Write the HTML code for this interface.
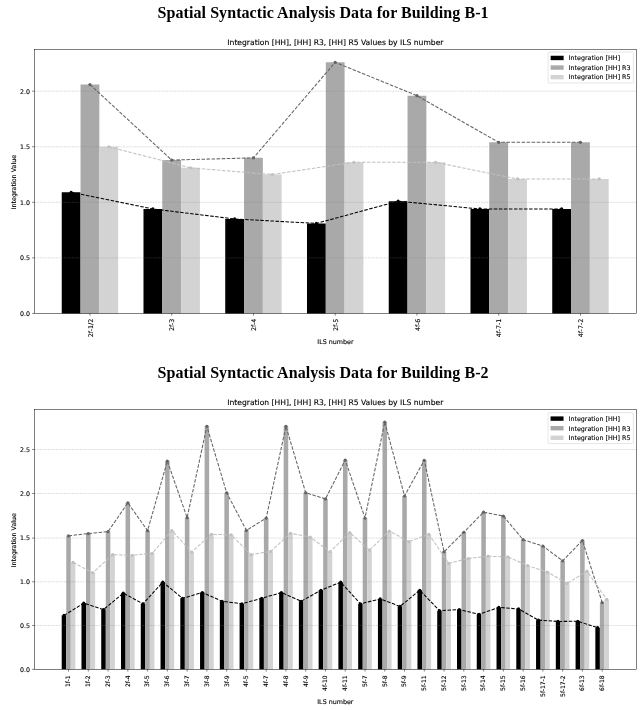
<!DOCTYPE html>
<html><head><meta charset="utf-8"><title>Spatial Syntactic Analysis Data</title>
<style>
html,body{margin:0;padding:0;background:#fff}
svg{display:block}
.t{font-family:"DejaVu Sans","Liberation Sans",sans-serif;font-size:6.35px;fill:#000;stroke:#000;stroke-width:0.12px}
.yt{font-family:"DejaVu Sans","Liberation Sans",sans-serif;font-size:6.25px;fill:#000}
.ti{font-family:"DejaVu Sans","Liberation Sans",sans-serif;font-size:7.61px;fill:#000;stroke:#000;stroke-width:0.12px}
.h{font-family:"Liberation Serif","Times New Roman",serif;font-weight:bold;font-size:16px;fill:#000;letter-spacing:0.068px}
.grid{stroke:#808080;stroke-width:0.5;stroke-dasharray:1.88 0.81;stroke-opacity:.5}
.tick{stroke:#000;stroke-width:0.5}
</style></head><body>
<svg width="642" height="710" viewBox="0 0 642 710">
<rect width="642" height="710" fill="#fff"/>
<text x="323.1" y="17.9" text-anchor="middle" class="h">Spatial Syntactic Analysis Data for Building B-1</text>
<path d="M61.74 313.40V192.30h18.80V313.40zM143.49 313.40V208.97h18.80V313.40zM225.24 313.40V218.96h18.80V313.40zM306.99 313.40V223.41h18.80V313.40zM388.74 313.40V201.19h18.80V313.40zM470.49 313.40V208.97h18.80V313.40zM552.24 313.40V208.97h18.80V313.40z" fill="#000000"/>
<path d="M80.54 313.40V84.53h18.80V313.40zM162.29 313.40V160.08h18.80V313.40zM244.04 313.40V157.86h18.80V313.40zM325.79 313.40V62.31h18.80V313.40zM407.54 313.40V95.64h18.80V313.40zM489.29 313.40V142.31h18.80V313.40zM571.04 313.40V142.31h18.80V313.40z" fill="#a9a9a9"/>
<path d="M99.35 313.40V146.75h18.80V313.40zM181.10 313.40V167.86h18.80V313.40zM262.85 313.40V174.52h18.80V313.40zM344.60 313.40V162.30h18.80V313.40zM426.35 313.40V162.30h18.80V313.40zM508.10 313.40V178.97h18.80V313.40zM589.85 313.40V178.97h18.80V313.40z" fill="#d3d3d3"/>
<line x1="34.35" x2="636.45" y1="257.85" y2="257.85" class="grid"/>
<line x1="34.35" x2="636.45" y1="202.30" y2="202.30" class="grid"/>
<line x1="34.35" x2="636.45" y1="146.75" y2="146.75" class="grid"/>
<line x1="34.35" x2="636.45" y1="91.20" y2="91.20" class="grid"/>
<polyline points="71.14,192.30 152.89,208.97 234.64,218.96 316.39,223.41 398.14,201.19 479.89,208.97 561.64,208.97" fill="none" stroke="#000000" stroke-width="1.05" stroke-dasharray="3.52 1.52"/>
<circle cx="71.14" cy="192.30" r="1.6" fill="#000000"/>
<circle cx="152.89" cy="208.97" r="1.6" fill="#000000"/>
<circle cx="234.64" cy="218.96" r="1.6" fill="#000000"/>
<circle cx="316.39" cy="223.41" r="1.6" fill="#000000"/>
<circle cx="398.14" cy="201.19" r="1.6" fill="#000000"/>
<circle cx="479.89" cy="208.97" r="1.6" fill="#000000"/>
<circle cx="561.64" cy="208.97" r="1.6" fill="#000000"/>
<polyline points="89.95,84.53 171.70,160.08 253.45,157.86 335.20,62.31 416.95,95.64 498.70,142.31 580.45,142.31" fill="none" stroke="#636363" stroke-width="1.05" stroke-dasharray="3.52 1.52"/>
<circle cx="89.95" cy="84.53" r="1.6" fill="#636363"/>
<circle cx="171.70" cy="160.08" r="1.6" fill="#636363"/>
<circle cx="253.45" cy="157.86" r="1.6" fill="#636363"/>
<circle cx="335.20" cy="62.31" r="1.6" fill="#636363"/>
<circle cx="416.95" cy="95.64" r="1.6" fill="#636363"/>
<circle cx="498.70" cy="142.31" r="1.6" fill="#636363"/>
<circle cx="580.45" cy="142.31" r="1.6" fill="#636363"/>
<polyline points="108.75,146.75 190.50,167.86 272.25,174.52 354.00,162.30 435.75,162.30 517.50,178.97 599.25,178.97" fill="none" stroke="#c0c0c0" stroke-width="1.05" stroke-dasharray="3.52 1.52"/>
<circle cx="108.75" cy="146.75" r="1.6" fill="#c0c0c0"/>
<circle cx="190.50" cy="167.86" r="1.6" fill="#c0c0c0"/>
<circle cx="272.25" cy="174.52" r="1.6" fill="#c0c0c0"/>
<circle cx="354.00" cy="162.30" r="1.6" fill="#c0c0c0"/>
<circle cx="435.75" cy="162.30" r="1.6" fill="#c0c0c0"/>
<circle cx="517.50" cy="178.97" r="1.6" fill="#c0c0c0"/>
<circle cx="599.25" cy="178.97" r="1.6" fill="#c0c0c0"/>
<rect x="34.35" y="49.45" width="602.10" height="263.95" fill="none" stroke="#000" stroke-width="0.5"/>
<line x1="32.15" x2="34.35" y1="313.40" y2="313.40" class="tick"/>
<text x="29.95" y="315.70" text-anchor="end" class="t yt">0.0</text>
<line x1="32.15" x2="34.35" y1="257.85" y2="257.85" class="tick"/>
<text x="29.95" y="260.15" text-anchor="end" class="t yt">0.5</text>
<line x1="32.15" x2="34.35" y1="202.30" y2="202.30" class="tick"/>
<text x="29.95" y="204.60" text-anchor="end" class="t yt">1.0</text>
<line x1="32.15" x2="34.35" y1="146.75" y2="146.75" class="tick"/>
<text x="29.95" y="149.05" text-anchor="end" class="t yt">1.5</text>
<line x1="32.15" x2="34.35" y1="91.20" y2="91.20" class="tick"/>
<text x="29.95" y="93.50" text-anchor="end" class="t yt">2.0</text>
<line x1="89.95" x2="89.95" y1="313.40" y2="315.60" class="tick"/>
<text transform="translate(92.53 318.75) rotate(-90)" text-anchor="end" class="t">2f-1/2</text>
<line x1="171.70" x2="171.70" y1="313.40" y2="315.60" class="tick"/>
<text transform="translate(174.28 318.75) rotate(-90)" text-anchor="end" class="t">2f-3</text>
<line x1="253.45" x2="253.45" y1="313.40" y2="315.60" class="tick"/>
<text transform="translate(256.03 318.75) rotate(-90)" text-anchor="end" class="t">2f-4</text>
<line x1="335.20" x2="335.20" y1="313.40" y2="315.60" class="tick"/>
<text transform="translate(337.78 318.75) rotate(-90)" text-anchor="end" class="t">2f-5</text>
<line x1="416.95" x2="416.95" y1="313.40" y2="315.60" class="tick"/>
<text transform="translate(419.53 318.75) rotate(-90)" text-anchor="end" class="t">4f-6</text>
<line x1="498.70" x2="498.70" y1="313.40" y2="315.60" class="tick"/>
<text transform="translate(501.28 318.75) rotate(-90)" text-anchor="end" class="t">4f-7-1</text>
<line x1="580.45" x2="580.45" y1="313.40" y2="315.60" class="tick"/>
<text transform="translate(583.03 318.75) rotate(-90)" text-anchor="end" class="t">4f-7-2</text>
<text x="335.40" y="45.15" text-anchor="middle" class="ti">Integration [HH], [HH] R3, [HH] R5 Values by ILS number</text>
<text x="335.40" y="343.90" text-anchor="middle" class="t">ILS number</text>
<text transform="translate(15.6 182.12) rotate(-90)" text-anchor="middle" class="t">Integration Value</text>
<rect x="548.15" y="52.05" width="85.3" height="30.9" rx="1.2" fill="#fff" fill-opacity="0.8" stroke="#ccc" stroke-width="0.5"/>
<rect x="550.65" y="55.75" width="13" height="4.4" fill="#000"/>
<text x="568.65" y="60.25" class="t">Integration [HH]</text>
<rect x="550.65" y="65.35" width="13" height="4.4" fill="#a9a9a9"/>
<text x="568.65" y="69.85" class="t">Integration [HH] R3</text>
<rect x="550.65" y="74.95" width="13" height="4.4" fill="#d3d3d3"/>
<text x="568.65" y="79.45" class="t">Integration [HH] R5</text>
<text x="323.1" y="378.1" text-anchor="middle" class="h">Spatial Syntactic Analysis Data for Building B-2</text>
<path d="M61.71 669.35V615.47h4.55V669.35zM81.48 669.35V603.16h4.55V669.35zM101.24 669.35V609.58h4.55V669.35zM121.01 669.35V593.14h4.55V669.35zM140.77 669.35V603.78h4.55V669.35zM160.54 669.35V582.15h4.55V669.35zM180.30 669.35V598.33h4.55V669.35zM200.06 669.35V592.53h4.55V669.35zM219.83 669.35V601.23h4.55V669.35zM239.59 669.35V603.78h4.55V669.35zM259.36 669.35V598.33h4.55V669.35zM279.12 669.35V592.53h4.55V669.35zM298.88 669.35V601.23h4.55V669.35zM318.65 669.35V590.24h4.55V669.35zM338.41 669.35V582.15h4.55V669.35zM358.18 669.35V603.78h4.55V669.35zM377.94 669.35V598.94h4.55V669.35zM397.71 669.35V606.41h4.55V669.35zM417.47 669.35V590.24h4.55V669.35zM437.23 669.35V610.63h4.55V669.35zM457.00 669.35V609.58h4.55V669.35zM476.76 669.35V614.24h4.55V669.35zM496.53 669.35V607.38h4.55V669.35zM516.29 669.35V608.96h4.55V669.35zM536.06 669.35V620.13h4.55V669.35zM555.82 669.35V621.44h4.55V669.35zM575.58 669.35V621.27h4.55V669.35zM595.35 669.35V627.69h4.55V669.35z" fill="#000000"/>
<path d="M66.26 669.35V535.83h4.55V669.35zM86.02 669.35V533.54h4.55V669.35zM105.79 669.35V531.61h4.55V669.35zM125.55 669.35V502.78h4.55V669.35zM145.32 669.35V530.64h4.55V669.35zM165.08 669.35V461.03h4.55V669.35zM184.85 669.35V517.72h4.55V669.35zM204.61 669.35V426.31h4.55V669.35zM224.37 669.35V492.76h4.55V669.35zM244.14 669.35V530.38h4.55V669.35zM263.90 669.35V518.07h4.55V669.35zM283.67 669.35V426.31h4.55V669.35zM303.43 669.35V492.76h4.55V669.35zM323.19 669.35V498.91h4.55V669.35zM342.96 669.35V460.06h4.55V669.35zM362.72 669.35V518.07h4.55V669.35zM382.49 669.35V422.00h4.55V669.35zM402.25 669.35V496.01h4.55V669.35zM422.02 669.35V460.24h4.55V669.35zM441.78 669.35V551.74h4.55V669.35zM461.54 669.35V532.23h4.55V669.35zM481.31 669.35V512.18h4.55V669.35zM501.07 669.35V516.05h4.55V669.35zM520.84 669.35V539.70h4.55V669.35zM540.60 669.35V546.03h4.55V669.35zM560.37 669.35V560.79h4.55V669.35zM580.13 669.35V540.49h4.55V669.35zM599.89 669.35V602.55h4.55V669.35z" fill="#a9a9a9"/>
<path d="M70.81 669.35V562.46h4.55V669.35zM90.57 669.35V572.75h4.55V669.35zM110.33 669.35V554.64h4.55V669.35zM130.10 669.35V555.26h4.55V669.35zM149.86 669.35V553.32h4.55V669.35zM169.63 669.35V530.64h4.55V669.35zM189.39 669.35V552.00h4.55V669.35zM209.16 669.35V534.25h4.55V669.35zM228.92 669.35V534.86h4.55V669.35zM248.68 669.35V554.64h4.55V669.35zM268.45 669.35V551.39h4.55V669.35zM288.21 669.35V533.28h4.55V669.35zM307.98 669.35V537.15h4.55V669.35zM327.74 669.35V551.74h4.55V669.35zM347.51 669.35V532.67h4.55V669.35zM367.27 669.35V550.16h4.55V669.35zM387.03 669.35V531.00h4.55V669.35zM406.80 669.35V541.63h4.55V669.35zM426.56 669.35V534.25h4.55V669.35zM446.33 669.35V563.34h4.55V669.35zM466.09 669.35V558.51h4.55V669.35zM485.85 669.35V556.22h4.55V669.35zM505.62 669.35V556.93h4.55V669.35zM525.38 669.35V565.63h4.55V669.35zM545.15 669.35V572.13h4.55V669.35zM564.91 669.35V583.47h4.55V669.35zM584.68 669.35V571.17h4.55V669.35zM604.44 669.35V599.38h4.55V669.35z" fill="#d3d3d3"/>
<line x1="34.35" x2="636.35" y1="625.47" y2="625.47" class="grid"/>
<line x1="34.35" x2="636.35" y1="581.80" y2="581.80" class="grid"/>
<line x1="34.35" x2="636.35" y1="538.10" y2="538.10" class="grid"/>
<line x1="34.35" x2="636.35" y1="493.47" y2="493.47" class="grid"/>
<line x1="34.35" x2="636.35" y1="449.47" y2="449.47" class="grid"/>
<polyline points="63.99,615.47 83.75,603.16 103.52,609.58 123.28,593.14 143.04,603.78 162.81,582.15 182.57,598.33 202.34,592.53 222.10,601.23 241.86,603.78 261.63,598.33 281.39,592.53 301.16,601.23 320.92,590.24 340.69,582.15 360.45,603.78 380.21,598.94 399.98,606.41 419.74,590.24 439.51,610.63 459.27,609.58 479.04,614.24 498.80,607.38 518.56,608.96 538.33,620.13 558.09,621.44 577.86,621.27 597.62,627.69" fill="none" stroke="#000000" stroke-width="1.05" stroke-dasharray="3.52 1.52"/>
<circle cx="63.99" cy="615.47" r="1.6" fill="#000000"/>
<circle cx="83.75" cy="603.16" r="1.6" fill="#000000"/>
<circle cx="103.52" cy="609.58" r="1.6" fill="#000000"/>
<circle cx="123.28" cy="593.14" r="1.6" fill="#000000"/>
<circle cx="143.04" cy="603.78" r="1.6" fill="#000000"/>
<circle cx="162.81" cy="582.15" r="1.6" fill="#000000"/>
<circle cx="182.57" cy="598.33" r="1.6" fill="#000000"/>
<circle cx="202.34" cy="592.53" r="1.6" fill="#000000"/>
<circle cx="222.10" cy="601.23" r="1.6" fill="#000000"/>
<circle cx="241.86" cy="603.78" r="1.6" fill="#000000"/>
<circle cx="261.63" cy="598.33" r="1.6" fill="#000000"/>
<circle cx="281.39" cy="592.53" r="1.6" fill="#000000"/>
<circle cx="301.16" cy="601.23" r="1.6" fill="#000000"/>
<circle cx="320.92" cy="590.24" r="1.6" fill="#000000"/>
<circle cx="340.69" cy="582.15" r="1.6" fill="#000000"/>
<circle cx="360.45" cy="603.78" r="1.6" fill="#000000"/>
<circle cx="380.21" cy="598.94" r="1.6" fill="#000000"/>
<circle cx="399.98" cy="606.41" r="1.6" fill="#000000"/>
<circle cx="419.74" cy="590.24" r="1.6" fill="#000000"/>
<circle cx="439.51" cy="610.63" r="1.6" fill="#000000"/>
<circle cx="459.27" cy="609.58" r="1.6" fill="#000000"/>
<circle cx="479.04" cy="614.24" r="1.6" fill="#000000"/>
<circle cx="498.80" cy="607.38" r="1.6" fill="#000000"/>
<circle cx="518.56" cy="608.96" r="1.6" fill="#000000"/>
<circle cx="538.33" cy="620.13" r="1.6" fill="#000000"/>
<circle cx="558.09" cy="621.44" r="1.6" fill="#000000"/>
<circle cx="577.86" cy="621.27" r="1.6" fill="#000000"/>
<circle cx="597.62" cy="627.69" r="1.6" fill="#000000"/>
<polyline points="68.53,535.83 88.30,533.54 108.06,531.61 127.83,502.78 147.59,530.64 167.35,461.03 187.12,517.72 206.88,426.31 226.65,492.76 246.41,530.38 266.18,518.07 285.94,426.31 305.70,492.76 325.47,498.91 345.23,460.06 365.00,518.07 384.76,422.00 404.52,496.01 424.29,460.24 444.05,551.74 463.82,532.23 483.58,512.18 503.35,516.05 523.11,539.70 542.87,546.03 562.64,560.79 582.40,540.49 602.17,602.55" fill="none" stroke="#636363" stroke-width="1.05" stroke-dasharray="3.52 1.52"/>
<circle cx="68.53" cy="535.83" r="1.6" fill="#636363"/>
<circle cx="88.30" cy="533.54" r="1.6" fill="#636363"/>
<circle cx="108.06" cy="531.61" r="1.6" fill="#636363"/>
<circle cx="127.83" cy="502.78" r="1.6" fill="#636363"/>
<circle cx="147.59" cy="530.64" r="1.6" fill="#636363"/>
<circle cx="167.35" cy="461.03" r="1.6" fill="#636363"/>
<circle cx="187.12" cy="517.72" r="1.6" fill="#636363"/>
<circle cx="206.88" cy="426.31" r="1.6" fill="#636363"/>
<circle cx="226.65" cy="492.76" r="1.6" fill="#636363"/>
<circle cx="246.41" cy="530.38" r="1.6" fill="#636363"/>
<circle cx="266.18" cy="518.07" r="1.6" fill="#636363"/>
<circle cx="285.94" cy="426.31" r="1.6" fill="#636363"/>
<circle cx="305.70" cy="492.76" r="1.6" fill="#636363"/>
<circle cx="325.47" cy="498.91" r="1.6" fill="#636363"/>
<circle cx="345.23" cy="460.06" r="1.6" fill="#636363"/>
<circle cx="365.00" cy="518.07" r="1.6" fill="#636363"/>
<circle cx="384.76" cy="422.00" r="1.6" fill="#636363"/>
<circle cx="404.52" cy="496.01" r="1.6" fill="#636363"/>
<circle cx="424.29" cy="460.24" r="1.6" fill="#636363"/>
<circle cx="444.05" cy="551.74" r="1.6" fill="#636363"/>
<circle cx="463.82" cy="532.23" r="1.6" fill="#636363"/>
<circle cx="483.58" cy="512.18" r="1.6" fill="#636363"/>
<circle cx="503.35" cy="516.05" r="1.6" fill="#636363"/>
<circle cx="523.11" cy="539.70" r="1.6" fill="#636363"/>
<circle cx="542.87" cy="546.03" r="1.6" fill="#636363"/>
<circle cx="562.64" cy="560.79" r="1.6" fill="#636363"/>
<circle cx="582.40" cy="540.49" r="1.6" fill="#636363"/>
<circle cx="602.17" cy="602.55" r="1.6" fill="#636363"/>
<polyline points="73.08,562.46 92.84,572.75 112.61,554.64 132.37,555.26 152.14,553.32 171.90,530.64 191.66,552.00 211.43,534.25 231.19,534.86 250.96,554.64 270.72,551.39 290.49,533.28 310.25,537.15 330.01,551.74 349.78,532.67 369.54,550.16 389.31,531.00 409.07,541.63 428.84,534.25 448.60,563.34 468.36,558.51 488.13,556.22 507.89,556.93 527.66,565.63 547.42,572.13 567.18,583.47 586.95,571.17 606.71,599.38" fill="none" stroke="#c0c0c0" stroke-width="1.05" stroke-dasharray="3.52 1.52"/>
<circle cx="73.08" cy="562.46" r="1.6" fill="#c0c0c0"/>
<circle cx="92.84" cy="572.75" r="1.6" fill="#c0c0c0"/>
<circle cx="112.61" cy="554.64" r="1.6" fill="#c0c0c0"/>
<circle cx="132.37" cy="555.26" r="1.6" fill="#c0c0c0"/>
<circle cx="152.14" cy="553.32" r="1.6" fill="#c0c0c0"/>
<circle cx="171.90" cy="530.64" r="1.6" fill="#c0c0c0"/>
<circle cx="191.66" cy="552.00" r="1.6" fill="#c0c0c0"/>
<circle cx="211.43" cy="534.25" r="1.6" fill="#c0c0c0"/>
<circle cx="231.19" cy="534.86" r="1.6" fill="#c0c0c0"/>
<circle cx="250.96" cy="554.64" r="1.6" fill="#c0c0c0"/>
<circle cx="270.72" cy="551.39" r="1.6" fill="#c0c0c0"/>
<circle cx="290.49" cy="533.28" r="1.6" fill="#c0c0c0"/>
<circle cx="310.25" cy="537.15" r="1.6" fill="#c0c0c0"/>
<circle cx="330.01" cy="551.74" r="1.6" fill="#c0c0c0"/>
<circle cx="349.78" cy="532.67" r="1.6" fill="#c0c0c0"/>
<circle cx="369.54" cy="550.16" r="1.6" fill="#c0c0c0"/>
<circle cx="389.31" cy="531.00" r="1.6" fill="#c0c0c0"/>
<circle cx="409.07" cy="541.63" r="1.6" fill="#c0c0c0"/>
<circle cx="428.84" cy="534.25" r="1.6" fill="#c0c0c0"/>
<circle cx="448.60" cy="563.34" r="1.6" fill="#c0c0c0"/>
<circle cx="468.36" cy="558.51" r="1.6" fill="#c0c0c0"/>
<circle cx="488.13" cy="556.22" r="1.6" fill="#c0c0c0"/>
<circle cx="507.89" cy="556.93" r="1.6" fill="#c0c0c0"/>
<circle cx="527.66" cy="565.63" r="1.6" fill="#c0c0c0"/>
<circle cx="547.42" cy="572.13" r="1.6" fill="#c0c0c0"/>
<circle cx="567.18" cy="583.47" r="1.6" fill="#c0c0c0"/>
<circle cx="586.95" cy="571.17" r="1.6" fill="#c0c0c0"/>
<circle cx="606.71" cy="599.38" r="1.6" fill="#c0c0c0"/>
<rect x="34.35" y="409.65" width="602.00" height="259.70" fill="none" stroke="#000" stroke-width="0.5"/>
<line x1="32.15" x2="34.35" y1="669.35" y2="669.35" class="tick"/>
<text x="29.95" y="671.65" text-anchor="end" class="t yt">0.0</text>
<line x1="32.15" x2="34.35" y1="625.47" y2="625.47" class="tick"/>
<text x="29.95" y="627.77" text-anchor="end" class="t yt">0.5</text>
<line x1="32.15" x2="34.35" y1="581.80" y2="581.80" class="tick"/>
<text x="29.95" y="584.10" text-anchor="end" class="t yt">1.0</text>
<line x1="32.15" x2="34.35" y1="538.10" y2="538.10" class="tick"/>
<text x="29.95" y="540.40" text-anchor="end" class="t yt">1.5</text>
<line x1="32.15" x2="34.35" y1="493.47" y2="493.47" class="tick"/>
<text x="29.95" y="495.77" text-anchor="end" class="t yt">2.0</text>
<line x1="32.15" x2="34.35" y1="449.47" y2="449.47" class="tick"/>
<text x="29.95" y="451.77" text-anchor="end" class="t yt">2.5</text>
<line x1="68.53" x2="68.53" y1="669.35" y2="671.55" class="tick"/>
<text transform="translate(70.42 675.35) rotate(-90)" text-anchor="end" class="t" style="font-size:6.07px">1f-1</text>
<line x1="88.30" x2="88.30" y1="669.35" y2="671.55" class="tick"/>
<text transform="translate(90.18 675.35) rotate(-90)" text-anchor="end" class="t" style="font-size:6.07px">1f-2</text>
<line x1="108.06" x2="108.06" y1="669.35" y2="671.55" class="tick"/>
<text transform="translate(109.95 675.35) rotate(-90)" text-anchor="end" class="t" style="font-size:6.07px">2f-3</text>
<line x1="127.83" x2="127.83" y1="669.35" y2="671.55" class="tick"/>
<text transform="translate(129.71 675.35) rotate(-90)" text-anchor="end" class="t" style="font-size:6.07px">2f-4</text>
<line x1="147.59" x2="147.59" y1="669.35" y2="671.55" class="tick"/>
<text transform="translate(149.48 675.35) rotate(-90)" text-anchor="end" class="t" style="font-size:6.07px">3f-5</text>
<line x1="167.35" x2="167.35" y1="669.35" y2="671.55" class="tick"/>
<text transform="translate(169.24 675.35) rotate(-90)" text-anchor="end" class="t" style="font-size:6.07px">3f-6</text>
<line x1="187.12" x2="187.12" y1="669.35" y2="671.55" class="tick"/>
<text transform="translate(189.00 675.35) rotate(-90)" text-anchor="end" class="t" style="font-size:6.07px">3f-7</text>
<line x1="206.88" x2="206.88" y1="669.35" y2="671.55" class="tick"/>
<text transform="translate(208.77 675.35) rotate(-90)" text-anchor="end" class="t" style="font-size:6.07px">3f-8</text>
<line x1="226.65" x2="226.65" y1="669.35" y2="671.55" class="tick"/>
<text transform="translate(228.53 675.35) rotate(-90)" text-anchor="end" class="t" style="font-size:6.07px">3f-9</text>
<line x1="246.41" x2="246.41" y1="669.35" y2="671.55" class="tick"/>
<text transform="translate(248.30 675.35) rotate(-90)" text-anchor="end" class="t" style="font-size:6.07px">4f-5</text>
<line x1="266.18" x2="266.18" y1="669.35" y2="671.55" class="tick"/>
<text transform="translate(268.06 675.35) rotate(-90)" text-anchor="end" class="t" style="font-size:6.07px">4f-7</text>
<line x1="285.94" x2="285.94" y1="669.35" y2="671.55" class="tick"/>
<text transform="translate(287.83 675.35) rotate(-90)" text-anchor="end" class="t" style="font-size:6.07px">4f-8</text>
<line x1="305.70" x2="305.70" y1="669.35" y2="671.55" class="tick"/>
<text transform="translate(307.59 675.35) rotate(-90)" text-anchor="end" class="t" style="font-size:6.07px">4f-9</text>
<line x1="325.47" x2="325.47" y1="669.35" y2="671.55" class="tick"/>
<text transform="translate(327.35 675.35) rotate(-90)" text-anchor="end" class="t" style="font-size:6.07px">4f-10</text>
<line x1="345.23" x2="345.23" y1="669.35" y2="671.55" class="tick"/>
<text transform="translate(347.12 675.35) rotate(-90)" text-anchor="end" class="t" style="font-size:6.07px">4f-11</text>
<line x1="365.00" x2="365.00" y1="669.35" y2="671.55" class="tick"/>
<text transform="translate(366.88 675.35) rotate(-90)" text-anchor="end" class="t" style="font-size:6.07px">5f-7</text>
<line x1="384.76" x2="384.76" y1="669.35" y2="671.55" class="tick"/>
<text transform="translate(386.65 675.35) rotate(-90)" text-anchor="end" class="t" style="font-size:6.07px">5f-8</text>
<line x1="404.52" x2="404.52" y1="669.35" y2="671.55" class="tick"/>
<text transform="translate(406.41 675.35) rotate(-90)" text-anchor="end" class="t" style="font-size:6.07px">5f-9</text>
<line x1="424.29" x2="424.29" y1="669.35" y2="671.55" class="tick"/>
<text transform="translate(426.18 675.35) rotate(-90)" text-anchor="end" class="t" style="font-size:6.07px">5f-11</text>
<line x1="444.05" x2="444.05" y1="669.35" y2="671.55" class="tick"/>
<text transform="translate(445.94 675.35) rotate(-90)" text-anchor="end" class="t" style="font-size:6.07px">5f-12</text>
<line x1="463.82" x2="463.82" y1="669.35" y2="671.55" class="tick"/>
<text transform="translate(465.70 675.35) rotate(-90)" text-anchor="end" class="t" style="font-size:6.07px">5f-13</text>
<line x1="483.58" x2="483.58" y1="669.35" y2="671.55" class="tick"/>
<text transform="translate(485.47 675.35) rotate(-90)" text-anchor="end" class="t" style="font-size:6.07px">5f-14</text>
<line x1="503.35" x2="503.35" y1="669.35" y2="671.55" class="tick"/>
<text transform="translate(505.23 675.35) rotate(-90)" text-anchor="end" class="t" style="font-size:6.07px">5f-15</text>
<line x1="523.11" x2="523.11" y1="669.35" y2="671.55" class="tick"/>
<text transform="translate(525.00 675.35) rotate(-90)" text-anchor="end" class="t" style="font-size:6.07px">5f-16</text>
<line x1="542.87" x2="542.87" y1="669.35" y2="671.55" class="tick"/>
<text transform="translate(544.76 675.35) rotate(-90)" text-anchor="end" class="t" style="font-size:6.07px">5f-17-1</text>
<line x1="562.64" x2="562.64" y1="669.35" y2="671.55" class="tick"/>
<text transform="translate(564.53 675.35) rotate(-90)" text-anchor="end" class="t" style="font-size:6.07px">5f-17-2</text>
<line x1="582.40" x2="582.40" y1="669.35" y2="671.55" class="tick"/>
<text transform="translate(584.29 675.35) rotate(-90)" text-anchor="end" class="t" style="font-size:6.07px">6f-13</text>
<line x1="602.17" x2="602.17" y1="669.35" y2="671.55" class="tick"/>
<text transform="translate(604.05 675.35) rotate(-90)" text-anchor="end" class="t" style="font-size:6.07px">6f-18</text>
<text x="335.35" y="405.35" text-anchor="middle" class="ti">Integration [HH], [HH] R3, [HH] R5 Values by ILS number</text>
<text x="335.35" y="704.00" text-anchor="middle" class="t">ILS number</text>
<text transform="translate(15.6 540.20) rotate(-90)" text-anchor="middle" class="t">Integration Value</text>
<rect x="548.05" y="412.70" width="85.3" height="30.9" rx="1.2" fill="#fff" fill-opacity="0.8" stroke="#ccc" stroke-width="0.5"/>
<rect x="550.55" y="416.40" width="13" height="4.4" fill="#000"/>
<text x="568.55" y="420.90" class="t">Integration [HH]</text>
<rect x="550.55" y="426.00" width="13" height="4.4" fill="#a9a9a9"/>
<text x="568.55" y="430.50" class="t">Integration [HH] R3</text>
<rect x="550.55" y="435.60" width="13" height="4.4" fill="#d3d3d3"/>
<text x="568.55" y="440.10" class="t">Integration [HH] R5</text>
</svg>
</body></html>
